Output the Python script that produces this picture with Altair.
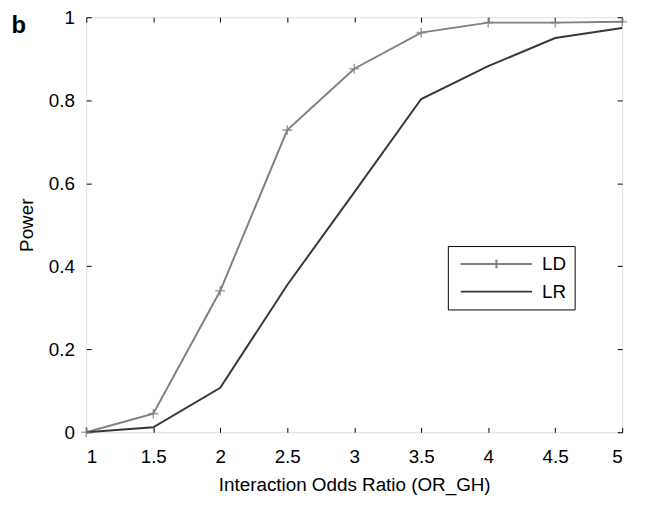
import altair as alt
import pandas as pd

odds_ratio = [1, 1.5, 2, 2.5, 3, 3.5, 4, 4.5, 5]
power_ld = [0.0, 0.045, 0.341, 0.728, 0.876, 0.963, 0.987, 0.987, 0.989]
power_lr = [0.0, 0.012, 0.107, 0.355, 0.578, 0.803, 0.882, 0.950, 0.974]
series = ["LD", "LR"]
colors = ["#808080", "#383838"]
x_ticks = [1, 1.5, 2, 2.5, 3, 3.5, 4, 4.5, 5]
y_ticks = [0, 0.2, 0.4, 0.6, 0.8, 1]

df = pd.DataFrame(
    {"x": odds_ratio * 2,
     "y": power_ld + power_lr,
     "s": ["LD"] * len(odds_ratio) + ["LR"] * len(odds_ratio)}
)

W, H = 541, 419
FONT = "Liberation Sans"
FS = 19

xs = alt.Scale(domain=[1, 5], nice=False, zero=False)
ys = alt.Scale(domain=[0, 1], nice=False, zero=False)

def tick_axis(orient, values, offset, **kw):
    return alt.Axis(orient=orient, values=values, labels=False, domain=False,
                    ticks=True, tickSize=5, tickColor="black", tickWidth=1,
                    grid=False, offset=offset, **kw)

legend_def = alt.Legend(title=None, orient="none", legendX=365, legendY=231,
                        padding=8, symbolOffset=4, labelOffset=63,
                        labelExpr="datum.label + '\u2002\u2008'",
                        symbolSize=324, symbolStrokeWidth=2, symbolOpacity=1,
                        symbolType="M-1,0H7",
                        labelFontSize=FS, labelFont=FONT, labelColor="black",
                        rowPadding=8, strokeColor="black", fillColor="white")

color_enc = alt.Color("s:N", scale=alt.Scale(domain=series, range=colors), legend=legend_def)

lines = alt.Chart(df).mark_line(strokeWidth=2).encode(
    x=alt.X("x:Q", scale=xs,
            axis=alt.Axis(orient="bottom", values=x_ticks, format="~g", ticks=False,
                          domain=False, grid=False, labelPadding=15,
                          labelFontSize=FS, labelFont=FONT, labelColor="black",
                          title="Interaction Odds Ratio (OR_GH)", titleFontSize=FS,
                          titleFont=FONT, titleFontWeight="normal", titleColor="black",
                          titlePadding=10)),
    y=alt.Y("y:Q", scale=ys,
            axis=alt.Axis(orient="left", values=y_ticks, format="~g", ticks=False,
                          domain=False, grid=False, labelPadding=12,
                          labelFontSize=FS, labelFont=FONT, labelColor="black",
                          title="Power", titleFontSize=FS, titleFont=FONT,
                          titleFontWeight="normal", titleColor="black", titlePadding=12)),
    color=color_enc,
)

points = alt.Chart(df).transform_filter(alt.datum.s == "LD").mark_point(
    shape="M-1,0H1M0,-1V1", filled=False, size=100, strokeWidth=1.6, color=colors[0]
).encode(
    x=alt.X("x:Q", scale=xs, axis=tick_axis("top", x_ticks, -H, title=None)),
    y=alt.Y("y:Q", scale=ys, axis=tick_axis("right", y_ticks, -W, title=None)),
)

legend_layer = alt.Chart(df).mark_point(filled=False, opacity=0).encode(
    x=alt.X("x:Q", scale=xs,
            axis=tick_axis("bottom", x_ticks, -H, title="b", titleFont=FONT,
                           titleFontSize=24, titleFontWeight="bold", titleColor="black",
                           titleAngle=0, titleAlign="left", titleBaseline="alphabetic",
                           titleX=-76, titleY=15)),
    y=alt.Y("y:Q", scale=ys, axis=tick_axis("left", y_ticks, -W, title=None)),
    color=color_enc,
    shape=alt.Shape("s:N", scale=alt.Scale(domain=series,
                                           range=["M-1,0H7M3,-0.5V0.5", "M-1,0H7"]),
                    legend=legend_def),
)

chart = alt.layer(lines, points, legend_layer).resolve_axis(
    x="independent", y="independent"
).properties(
    width=W, height=H,
    padding={"left": 3, "top": -2, "right": 0, "bottom": 0},
).configure_view(stroke="black", strokeWidth=1.5).configure(background="white")

chart.save("out.html", embed_options={"renderer": "svg", "actions": False})
